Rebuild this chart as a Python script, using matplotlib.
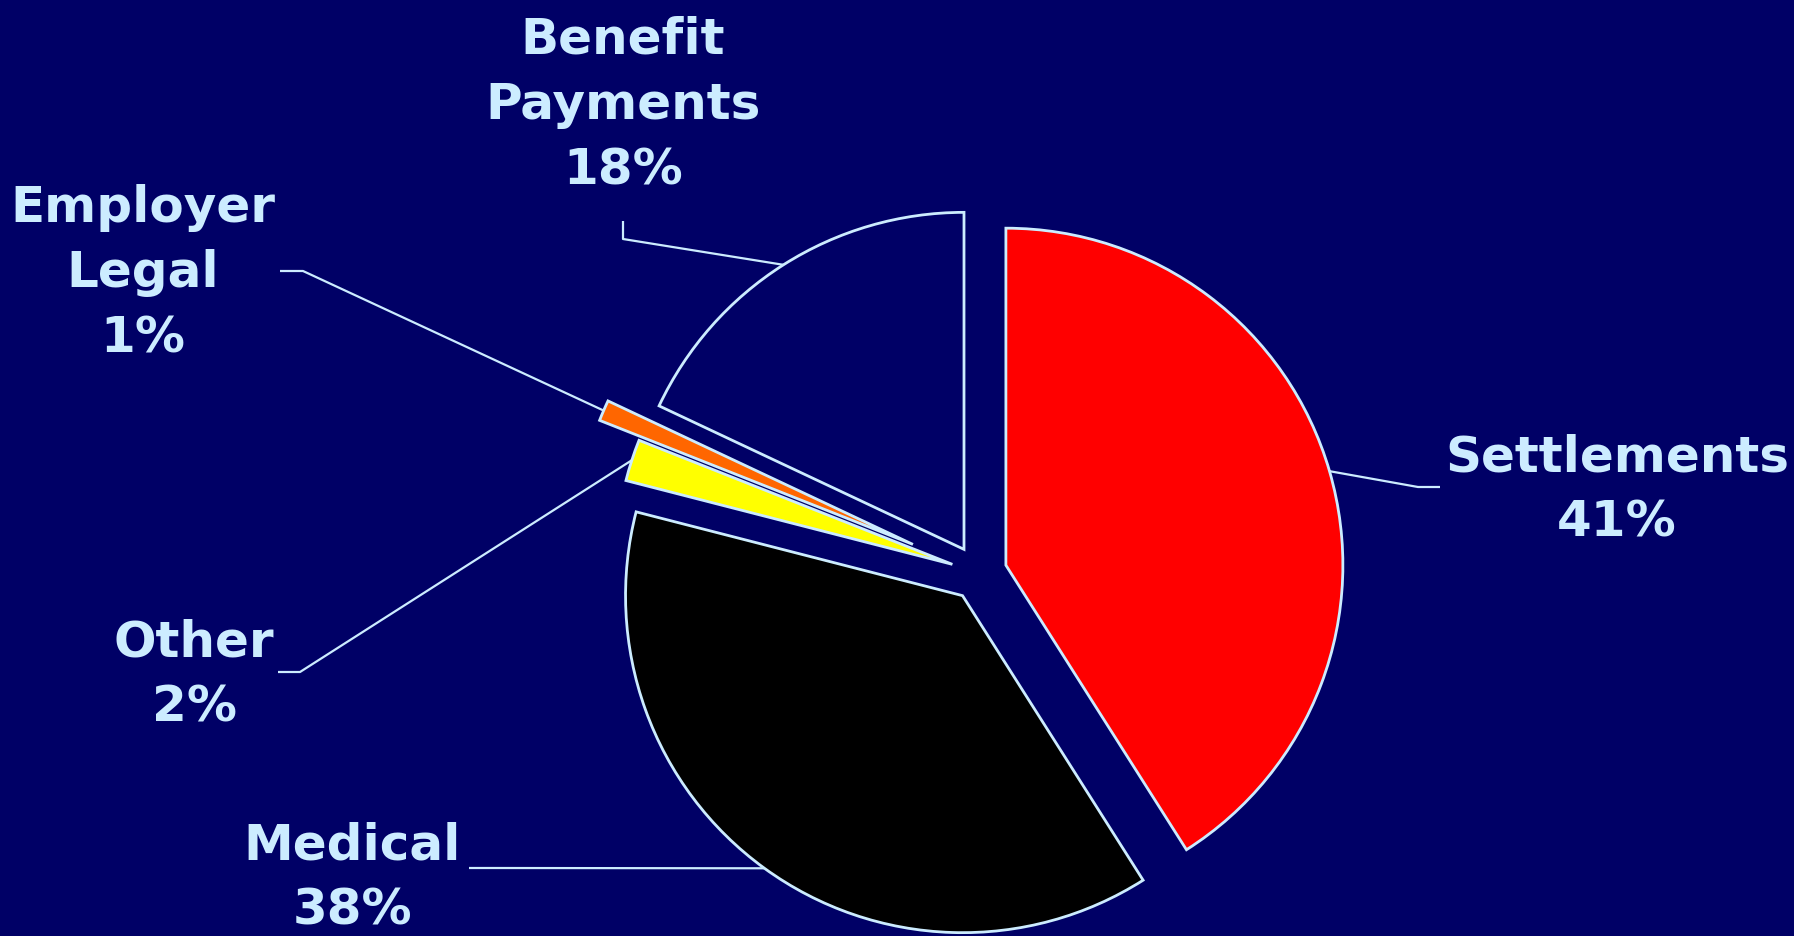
import matplotlib
matplotlib.use("Agg")
import matplotlib.pyplot as plt
import numpy as np

labels = ["Settlements", "Medical", "Other", "Employer\nLegal", "Benefit\nPayments"]
shares = [41, 38, 2, 1, 18]
colors = ["#FF0000", "#000000", "#FFFF00", "#FF6600", "#000066"]

BG = "#000066"
FG = "#CCECFF"

W, H = 1794, 937
fig = plt.figure(figsize=(W / 100, H / 100), dpi=100, facecolor=BG)
ax = fig.add_axes([0, 0, 1, 1])
ax.set_facecolor(BG)
ax.axis("off")

center = (979, H - 574)
radius = 337
# pull-out distance in pixels; the 1% slice sits further out
explode = [28, 28, 28, 72, 28]
wedges, _ = ax.pie(shares, colors=colors, startangle=90, counterclock=False,
                   radius=radius, center=center, explode=explode,
                   wedgeprops=dict(edgecolor=FG, linewidth=2))
ax.set_xlim(0, W)
ax.set_ylim(0, H)

# label centres and leader elbows, given in pixels from the top-left corner
label_pos = [(1617, 490), (352, 878), (194, 675), (143, 273), (623, 105)]
elbows = [((1418, 488), (1440, 488)), ((490, 869), (469, 869)),
          ((300, 673), (278, 673)), ((303, 272), (280, 272)),
          ((623, 240), (623, 222))]

for w, lab, s, (tx, ty), (e1, e2) in zip(wedges, labels, shares, label_pos, elbows):
    mid = np.deg2rad((w.theta1 + w.theta2) / 2)
    cx, cy = w.center
    px, py = cx + w.r * np.cos(mid), cy + w.r * np.sin(mid)
    ax.plot([px, e1[0], e2[0]], [py, H - e1[1], H - e2[1]], color=FG, lw=1.6,
            solid_capstyle="butt")
    ax.text(tx, H - ty, f"{lab}\n{s}%", ha="center", va="center", color=FG,
            fontsize=36, fontweight="bold", linespacing=1.45, family="DejaVu Sans")

fig.savefig("out.png", dpi=100, facecolor=BG)
